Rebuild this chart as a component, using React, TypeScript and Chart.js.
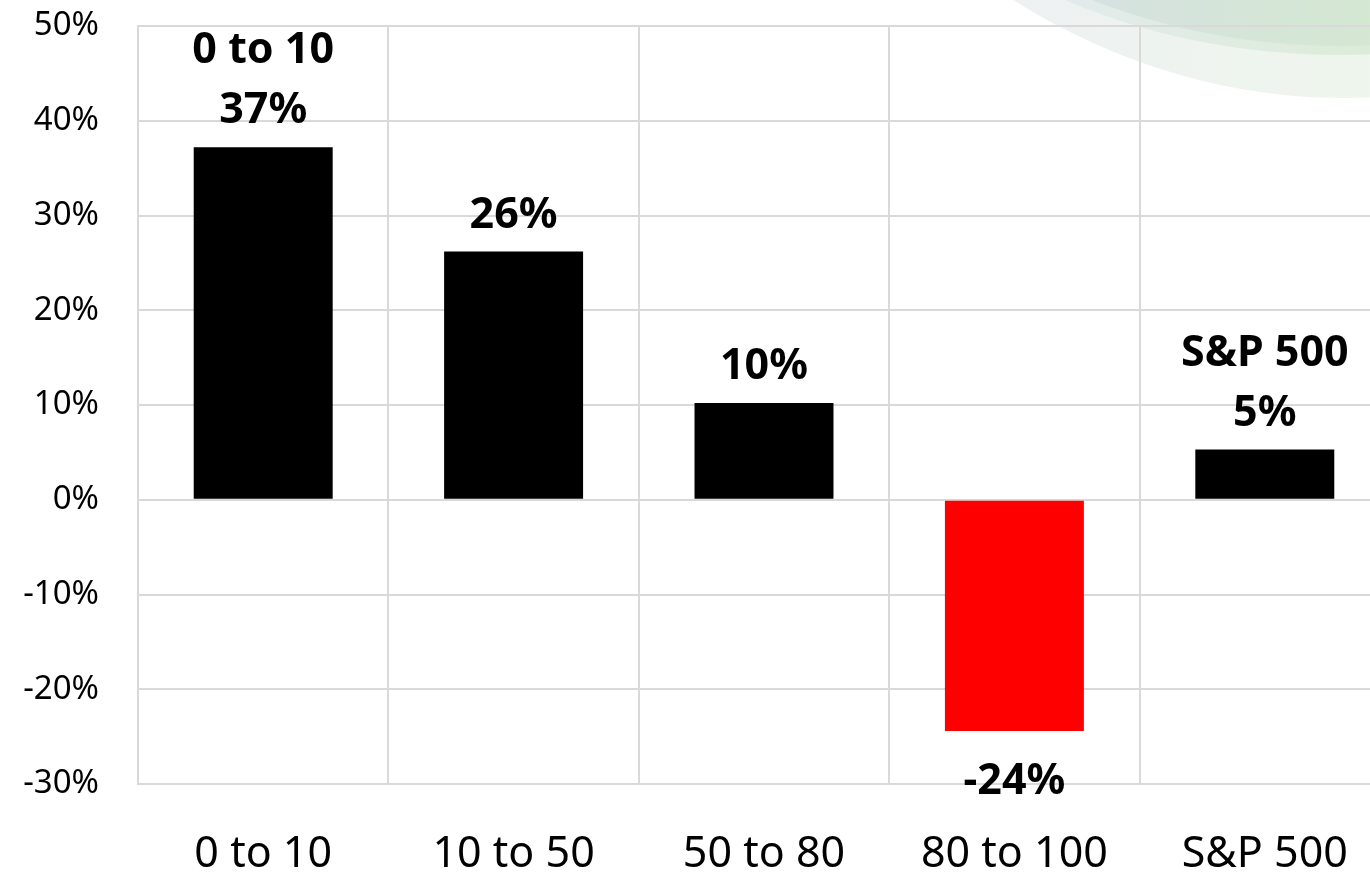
import React, { useEffect, useRef } from "react";
import { Chart, registerables } from "chart.js";

Chart.register(...registerables);

const categories = ["0 to 10", "10 to 50", "50 to 80", "80 to 100", "S&P 500"];
const returnsPct = [37.2, 26.2, 10.2, -24.4, 5.3];
const valueLabels = ["37%", "26%", "10%", "-24%", "5%"];
const showCategoryInLabel = [true, false, false, false, true];
const barColors = ["#000000", "#000000", "#000000", "#ff0000", "#000000"];
const yMin = -30;
const yMax = 50;
const yStep = 10;

const FONT = "'Noto Sans', 'DejaVu Sans', sans-serif";

const backgroundPlugin = {
  id: "swoosh",
  beforeDraw(chart: any) {
    const ctx = chart.ctx as CanvasRenderingContext2D;
    ctx.save();
    // outer light band
    let g = ctx.createLinearGradient(1000, 0, 1400, 0);
    g.addColorStop(0, "#edf1f2");
    g.addColorStop(1, "#eff6ec");
    ctx.fillStyle = g;
    ctx.beginPath();
    ctx.ellipse(1345, -702, 692, 800, 0, 0, Math.PI * 2);
    ctx.fill();
    // shadow band
    g = ctx.createLinearGradient(1080, 0, 1400, 0);
    g.addColorStop(0, "#e2ebea");
    g.addColorStop(1, "#dcecd7");
    ctx.fillStyle = g;
    ctx.beginPath();
    ctx.ellipse(1340, -347, 545, 402, 0, 0, Math.PI * 2);
    ctx.fill();
    // inner darker band
    g = ctx.createLinearGradient(1080, 0, 1400, 0);
    g.addColorStop(0, "#d5e2e1");
    g.addColorStop(0.5, "#d5e5d8");
    g.addColorStop(1, "#d4e8d0");
    ctx.fillStyle = g;
    ctx.beginPath();
    ctx.ellipse(1340, -354, 533, 400, 0, 0, Math.PI * 2);
    ctx.fill();
    ctx.restore();
  },
};

const labelPlugin = {
  id: "barLabels",
  afterDatasetsDraw(chart: any) {
    const ctx = chart.ctx as CanvasRenderingContext2D;
    const meta = chart.getDatasetMeta(0);
    ctx.save();
    ctx.font = `bold 43px ${FONT}`;
    ctx.fillStyle = "#000000";
    ctx.textAlign = "center";
    ctx.textBaseline = "alphabetic";
    meta.data.forEach((bar: any, i: number) => {
      const lines = showCategoryInLabel[i]
        ? [categories[i], valueLabels[i]]
        : [valueLabels[i]];
      const v = returnsPct[i];
      if (v >= 0) {
        const top = Math.min(bar.y, bar.base);
        let y = top - 24;
        for (let k = lines.length - 1; k >= 0; k--) {
          ctx.fillText(lines[k], bar.x, y);
          y -= 60;
        }
      } else {
        const bottom = Math.max(bar.y, bar.base);
        let y = bottom + 63;
        lines.forEach((l) => {
          ctx.fillText(l, bar.x, y);
          y += 60;
        });
      }
    });
    ctx.restore();
  },
};

export default function App() {
  const canvasRef = useRef<HTMLCanvasElement | null>(null);

  useEffect(() => {
    if (!canvasRef.current) return;
    const chart = new Chart(canvasRef.current, {
      type: "bar",
      data: {
        labels: categories,
        datasets: [
          {
            data: returnsPct,
            backgroundColor: barColors,
            borderWidth: 0,
            categoryPercentage: 1,
            barPercentage: 0.555,
          },
        ],
      },
      options: {
        responsive: false,
        animation: false,
        layout: { padding: { top: 26, right: 10, left: 0, bottom: 0 } },
        plugins: {
          legend: { display: false },
          tooltip: { enabled: false },
        },
        scales: {
          x: {
            grid: { color: "#d9d9d9", lineWidth: 2, drawTicks: false, offset: true },
            border: { color: "#d9d9d9", width: 2 },
            ticks: {
              color: "#000000",
              font: { family: FONT, size: 43 },
              padding: 45,
              maxRotation: 0,
              autoSkip: false,
            },
            afterFit(scale: any) {
              scale.height = 89;
              scale.paddingLeft = 0;
              scale.paddingRight = 0;
            },
          },
          y: {
            min: yMin,
            max: yMax,
            grid: { color: "#d9d9d9", lineWidth: 2, drawTicks: false },
            border: { color: "#d9d9d9", width: 2 },
            ticks: {
              stepSize: yStep,
              color: "#000000",
              font: { family: FONT, size: 33 },
              padding: 39,
              callback: (v: any) => `${v}%`,
            },
            afterFit(scale: any) {
              scale.width = 138;
              scale.paddingTop = 0;
              scale.paddingBottom = 0;
            },
          },
        },
      },
      plugins: [backgroundPlugin, labelPlugin],
    });
    return () => chart.destroy();
  }, []);

  return (
    <div
      style={{
        position: "fixed",
        left: 0,
        top: 0,
        width: 1370,
        height: 873,
        overflow: "hidden",
        background: "#ffffff",
      }}
    >
      <canvas ref={canvasRef} width={1400} height={873} style={{ display: "block" }} />
    </div>
  );
}
